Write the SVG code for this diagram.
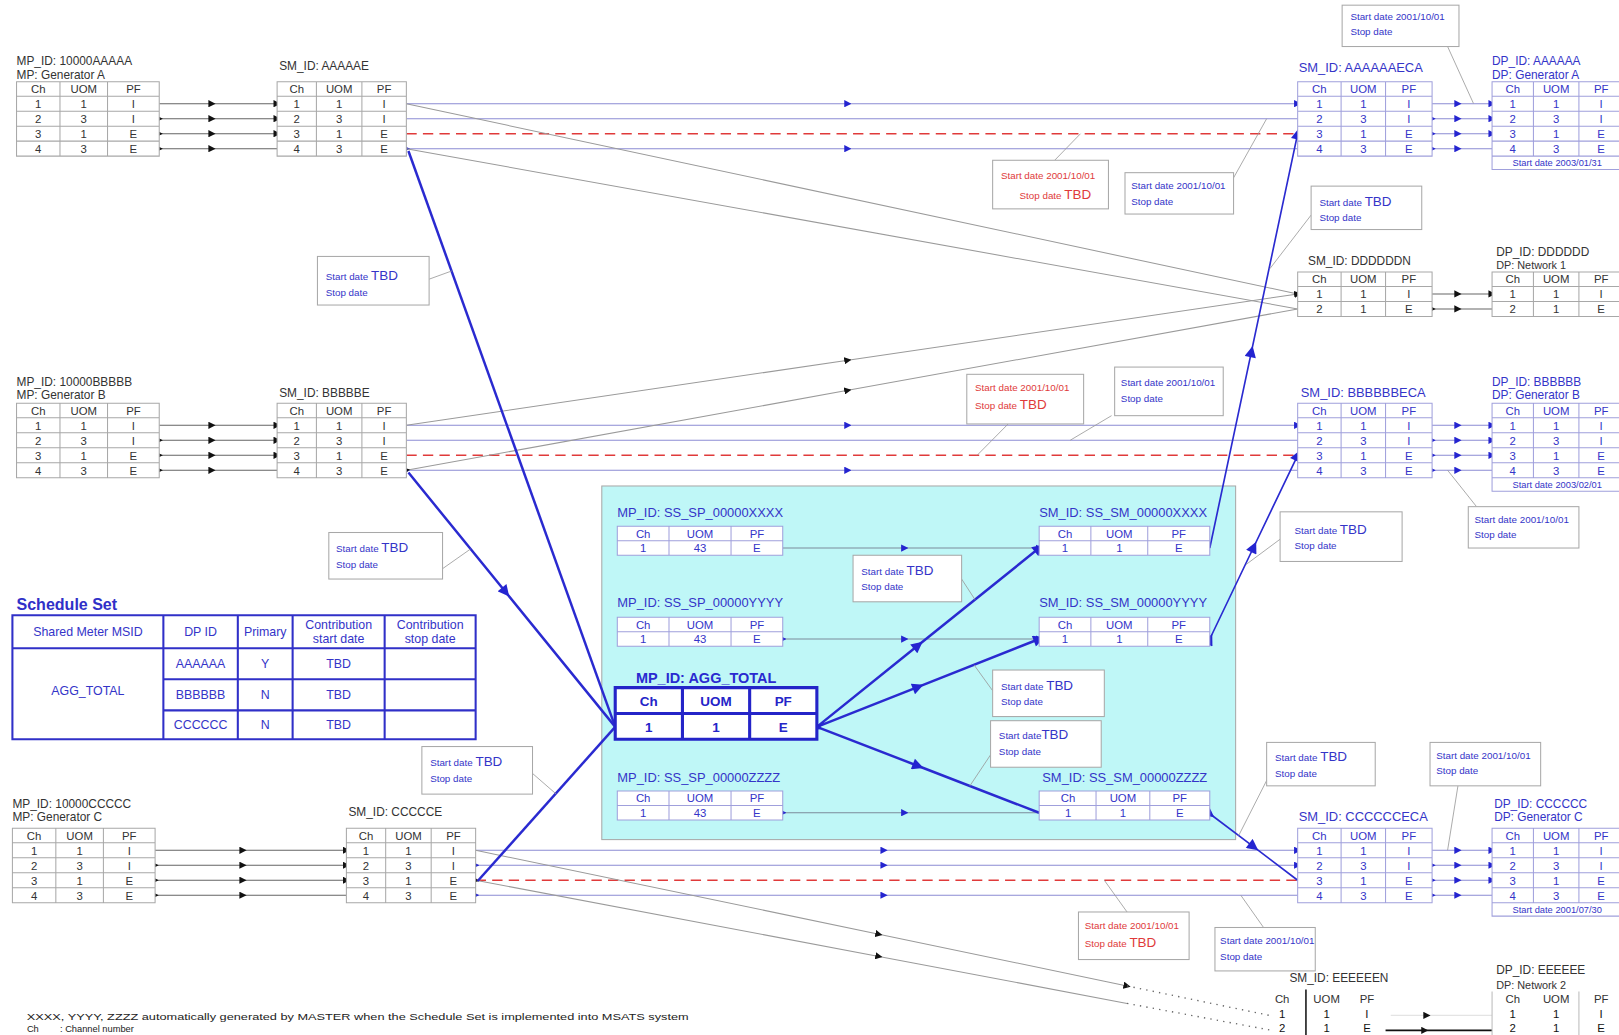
<svg xmlns="http://www.w3.org/2000/svg" width="1619" height="1035" viewBox="0 0 1619 1035">
<defs>
<style>
text{font-family:"Liberation Sans",Arial,sans-serif}
.lg{fill:#333;font-size:11.5px}
.lb{fill:#3434c8;font-size:11.5px}
.lbx{fill:#3434c8;font-size:12.5px}
.tg{fill:#333;font-size:11px;text-anchor:middle}
.tb{fill:#3434c8;font-size:11px;text-anchor:middle}
.sm{font-size:9.5px}
.ft{font-size:9px}
.cbt{fill:#3434c8}
.crt{fill:#e03a3a}
.tbd{font-size:13px}
.gt{fill:#fff;stroke:#a8a8a8;stroke-width:1}
.bt{fill:#fff;stroke:#a0a0dc;stroke-width:1}
.call{fill:#fff;stroke:#a8a8a8;stroke-width:1}
.lead{stroke:#999;stroke-width:0.8;fill:none}
.ck{stroke:#666;stroke-width:1;fill:none;marker-mid:url(#ak)}
.cbl{stroke:#8c8cd4;stroke-width:1;fill:none}
.cblm{stroke:#8c8cd4;stroke-width:1;fill:none;marker-mid:url(#abl)}
.cg{stroke:#9a9a9a;stroke-width:1;fill:none}
.cgm{stroke:#9a9a9a;stroke-width:1;fill:none;marker-mid:url(#ak)}
.cr{stroke:#e03a3a;stroke-width:1.5;fill:none;stroke-dasharray:10 6}
.ct{stroke:#2a2ad0;stroke-width:2.4;fill:none}
.ctm{stroke:#2a2ad0;stroke-width:2.4;fill:none;marker-mid:url(#abig)}
.cc{stroke:#7c8c9c;stroke-width:1;fill:none;marker-mid:url(#abl)}
.dot{stroke:#666;stroke-width:1.3;fill:none;stroke-dasharray:1.3 5}
.ss{fill:none;stroke:#3030c8;stroke-width:2}
.sst{fill:#3434c8;font-size:12px;text-anchor:middle}
</style>
<marker id="ak" viewBox="0 0 10 10" refX="5" refY="5" markerWidth="7" markerHeight="7" markerUnits="userSpaceOnUse" orient="auto"><path d="M0,0 L10,5 L0,10 z" fill="#111"/></marker>
<marker id="abl" viewBox="0 0 10 10" refX="5" refY="5" markerWidth="7" markerHeight="7" markerUnits="userSpaceOnUse" orient="auto"><path d="M0,0 L10,5 L0,10 z" fill="#2424d0"/></marker>
<marker id="abig" viewBox="0 0 10 10" refX="5" refY="5" markerWidth="12" markerHeight="11" markerUnits="userSpaceOnUse" orient="auto"><path d="M0,0 L10,5 L0,10 z" fill="#2424d0"/></marker>
</defs>
<rect x="0" y="0" width="1619" height="1035" fill="#fff"/>
<g transform="scale(1.034)">

<!-- cyan shared area -->
<rect id="shared-area" x="582" y="470" width="613" height="342" fill="#bff7f7" stroke="#a8a8a8" stroke-width="1"/>

<g id="connectors">
<!-- MP -> SM (black) -->
<path class="ck" d="M154,100.3 L205,100.3 L268,100.3 M154,114.8 L205,114.8 L268,114.8 M154,129.3 L205,129.3 L268,129.3 M154,143.8 L205,143.8 L268,143.8"/>
<path class="ck" d="M154,411.3 L205,411.3 L268,411.3 M154,425.8 L205,425.8 L268,425.8 M154,440.3 L205,440.3 L268,440.3 M154,454.8 L205,454.8 L268,454.8"/>
<path class="ck" d="M150,822.3 L235,822.3 L335,822.3 M150,836.8 L235,836.8 L335,836.8 M150,851.3 L235,851.3 L335,851.3 M150,865.8 L235,865.8 L335,865.8"/>
<!-- SM -> SM ECA (blue) -->
<path class="cblm" d="M393,100.3 L820,100.3 L1255,100.3 M393,143.8 L820,143.8 L1255,143.8"/>
<path class="cbl" d="M393,114.8 L1255,114.8"/>
<path class="cblm" d="M393,411.3 L820,411.3 L1255,411.3 M393,454.8 L820,454.8 L1255,454.8"/>
<path class="cbl" d="M393,425.8 L1255,425.8"/>
<path class="cblm" d="M460,822.3 L855,822.3 L1255,822.3 M460,836.8 L855,836.8 L1255,836.8 M460,865.8 L855,865.8 L1255,865.8"/>
<!-- red dashed -->
<path class="cr" d="M393,129.3 H1255 M393,440.3 H1255 M460,851.3 H1255"/>
<!-- diagonals to network meters -->
<path class="cg" d="M393,100.3 L1255,284.3 M393,143.8 L1255,298.8"/>
<path class="cgm" d="M393,411.3 L820,348.4 L1255,284.3 M393,454.8 L820,377.5 L1255,298.8"/>
<path class="cgm" d="M460,822.3 L850,903.5 L1090,953.5 M460,851.3 L850,925 L1090,970.4"/>
<path class="dot" d="M1090,953.5 L1230,982.5 M1090,970.4 L1230,996.5"/>
<!-- ECA -> DP (blue) -->
<path class="cblm" d="M1385,100.3 L1410,100.3 L1443,100.3 M1385,114.8 L1410,114.8 L1443,114.8 M1385,129.3 L1410,129.3 L1443,129.3 M1385,143.8 L1410,143.8 L1443,143.8"/>
<path class="cblm" d="M1385,411.3 L1410,411.3 L1443,411.3 M1385,425.8 L1410,425.8 L1443,425.8 M1385,440.3 L1410,440.3 L1443,440.3 M1385,454.8 L1410,454.8 L1443,454.8"/>
<path class="cblm" d="M1385,822.3 L1410,822.3 L1443,822.3 M1385,836.8 L1410,836.8 L1443,836.8 M1385,851.3 L1410,851.3 L1443,851.3 M1385,865.8 L1410,865.8 L1443,865.8"/>
<path class="ck" d="M1385,284.3 L1410,284.3 L1443,284.3 M1385,298.8 L1410,298.8 L1443,298.8"/>
<path class="ck" style="stroke:#e4e4e4" d="M1345,982 L1380,982 L1443,982"/>
<path class="ck" style="stroke:#111;stroke-width:1.6" d="M1340,996.5 L1378,996.5 L1443,996.5"/>
<!-- cyan SP -> SM -->
<path class="cc" d="M757,530 L875,530 L1005,530 M757,618 L875,618 L1005,618 M757,786 L875,786 L1005,786"/>
<!-- thick aggregation lines -->
<path class="ct" d="M395,146 L595,703"/>
<path class="ctm" d="M395,457 L489,572.6 L595,703"/>
<path class="ct" d="M462,852 L595,703"/>
<path class="ctm" d="M790,703 L888,624.1 L1005,530 M790,703 L888,664.3 L1005,618 M790,703 L888,740.8 L1005,786"/>
<path class="ctm" style="stroke-width:1.6" d="M1170,530 L1210.3,340 L1255,129.3 M1170,618 L1212.5,529 L1255,440.3 M1170,787 L1212.5,819 L1255,851.3"/>
<!-- callout leaders -->
<path class="lead" d="M1400,45 L1425,100 M1020,155 L1045,129.3 M1193,172 L1225,114.8 M1268,208 L1228,260 M415,270 L437,262 M975,410 L945,440.3 M1075,402 L1035,425.8 M1428,490 L1400,454.8 M1240,520 L1205,546 M428,550 L455,531 M930,560 L943,580 M960,668 L942,643 M958,730 L938,760 M515,748 L538,768 M1230,745 L1198,808 M1410,760 L1400,822.3 M1090,882 L1068,851.3 M1222,897 L1200,865.8"/>
</g>

<!-- ===== Top group ===== -->
<g id="mp-10000AAAAA">
<text class="lg" x="16" y="63">MP_ID: 10000AAAAA</text>
<text class="lg" x="16" y="76">MP: Generator A</text>
<path class="gt" d="M16,79h138v72h-138z M16,93h138 M16,107.5h138 M16,122h138 M16,136.5h138 M58,79v72 M104,79v72"/>
<text class="tg" y="90"><tspan x="37">Ch</tspan><tspan x="81">UOM</tspan><tspan x="129">PF</tspan></text>
<text class="tg" y="104.5"><tspan x="37">1</tspan><tspan x="81">1</tspan><tspan x="129">I</tspan></text>
<text class="tg" y="119"><tspan x="37">2</tspan><tspan x="81">3</tspan><tspan x="129">I</tspan></text>
<text class="tg" y="133.5"><tspan x="37">3</tspan><tspan x="81">1</tspan><tspan x="129">E</tspan></text>
<text class="tg" y="148"><tspan x="37">4</tspan><tspan x="81">3</tspan><tspan x="129">E</tspan></text>
</g>
<g id="sm-AAAAAE">
<text class="lg" x="270" y="68">SM_ID: AAAAAE</text>
<path class="gt" d="M268,79h125v72h-125z M268,93h125 M268,107.5h125 M268,122h125 M268,136.5h125 M306,79v72 M350,79v72"/>
<text class="tg" y="90"><tspan x="287">Ch</tspan><tspan x="328">UOM</tspan><tspan x="371.5">PF</tspan></text>
<text class="tg" y="104.5"><tspan x="287">1</tspan><tspan x="328">1</tspan><tspan x="371.5">I</tspan></text>
<text class="tg" y="119"><tspan x="287">2</tspan><tspan x="328">3</tspan><tspan x="371.5">I</tspan></text>
<text class="tg" y="133.5"><tspan x="287">3</tspan><tspan x="328">1</tspan><tspan x="371.5">E</tspan></text>
<text class="tg" y="148"><tspan x="287">4</tspan><tspan x="328">3</tspan><tspan x="371.5">E</tspan></text>
</g>
<g id="sm-AAAAAAECA">
<text class="lbx" x="1256" y="70">SM_ID: AAAAAAECA</text>
<path class="bt" d="M1255,79h130v72h-130z M1255,93h130 M1255,107.5h130 M1255,122h130 M1255,136.5h130 M1297,79v72 M1340,79v72"/>
<text class="tb" y="90"><tspan x="1276">Ch</tspan><tspan x="1318.5">UOM</tspan><tspan x="1362.5">PF</tspan></text>
<text class="tb" y="104.5"><tspan x="1276">1</tspan><tspan x="1318.5">1</tspan><tspan x="1362.5">I</tspan></text>
<text class="tb" y="119"><tspan x="1276">2</tspan><tspan x="1318.5">3</tspan><tspan x="1362.5">I</tspan></text>
<text class="tb" y="133.5"><tspan x="1276">3</tspan><tspan x="1318.5">1</tspan><tspan x="1362.5">E</tspan></text>
<text class="tb" y="148"><tspan x="1276">4</tspan><tspan x="1318.5">3</tspan><tspan x="1362.5">E</tspan></text>
</g>
<g id="dp-AAAAAA">
<text class="lb" x="1443" y="63">DP_ID: AAAAAA</text>
<text class="lb" x="1443" y="76">DP: Generator A</text>
<path class="bt" d="M1443,79h127v85h-127z M1443,93h127 M1443,107.5h127 M1443,122h127 M1443,136.5h127 M1443,151h127 M1483,79v72 M1527,79v72"/>
<text class="tb" y="90"><tspan x="1463">Ch</tspan><tspan x="1505">UOM</tspan><tspan x="1548.5">PF</tspan></text>
<text class="tb" y="104.5"><tspan x="1463">1</tspan><tspan x="1505">1</tspan><tspan x="1548.5">I</tspan></text>
<text class="tb" y="119"><tspan x="1463">2</tspan><tspan x="1505">3</tspan><tspan x="1548.5">I</tspan></text>
<text class="tb" y="133.5"><tspan x="1463">3</tspan><tspan x="1505">1</tspan><tspan x="1548.5">E</tspan></text>
<text class="tb" y="148"><tspan x="1463">4</tspan><tspan x="1505">3</tspan><tspan x="1548.5">E</tspan></text>
<text class="tb ft" x="1506" y="160.5">Start date 2003/01/31</text>
</g>

<g id="sm-DDDDDDN">
<text class="lg" x="1265" y="256">SM_ID: DDDDDDN</text>
<path class="gt" d="M1255,263h130v43h-130z M1255,277h130 M1255,291.5h130 M1297,263v43 M1340,263v43"/>
<text class="tg" y="274"><tspan x="1276">Ch</tspan><tspan x="1318.5">UOM</tspan><tspan x="1362.5">PF</tspan></text>
<text class="tg" y="288.5"><tspan x="1276">1</tspan><tspan x="1318.5">1</tspan><tspan x="1362.5">I</tspan></text>
<text class="tg" y="303"><tspan x="1276">2</tspan><tspan x="1318.5">1</tspan><tspan x="1362.5">E</tspan></text>
</g>
<g id="dp-DDDDDD">
<text class="lg" x="1447" y="248">DP_ID: DDDDDD</text>
<text class="lg" x="1447" y="260" style="font-size:10.5px">DP: Network 1</text>
<path class="gt" d="M1443,263h127v43h-127z M1443,277h127 M1443,291.5h127 M1483,263v43 M1527,263v43"/>
<text class="tg" y="274"><tspan x="1463">Ch</tspan><tspan x="1505">UOM</tspan><tspan x="1548.5">PF</tspan></text>
<text class="tg" y="288.5"><tspan x="1463">1</tspan><tspan x="1505">1</tspan><tspan x="1548.5">I</tspan></text>
<text class="tg" y="303"><tspan x="1463">2</tspan><tspan x="1505">1</tspan><tspan x="1548.5">E</tspan></text>
</g>

<!-- ===== B group ===== -->
<g id="mp-10000BBBBB">
<text class="lg" x="16" y="373">MP_ID: 10000BBBBB</text>
<text class="lg" x="16" y="386">MP: Generator B</text>
<path class="gt" d="M16,390h138v72h-138z M16,404h138 M16,418.5h138 M16,433h138 M16,447.5h138 M58,390v72 M104,390v72"/>
<text class="tg" y="401"><tspan x="37">Ch</tspan><tspan x="81">UOM</tspan><tspan x="129">PF</tspan></text>
<text class="tg" y="415.5"><tspan x="37">1</tspan><tspan x="81">1</tspan><tspan x="129">I</tspan></text>
<text class="tg" y="430"><tspan x="37">2</tspan><tspan x="81">3</tspan><tspan x="129">I</tspan></text>
<text class="tg" y="444.5"><tspan x="37">3</tspan><tspan x="81">1</tspan><tspan x="129">E</tspan></text>
<text class="tg" y="459"><tspan x="37">4</tspan><tspan x="81">3</tspan><tspan x="129">E</tspan></text>
</g>
<g id="sm-BBBBBE">
<text class="lg" x="270" y="384">SM_ID: BBBBBE</text>
<path class="gt" d="M268,390h125v72h-125z M268,404h125 M268,418.5h125 M268,433h125 M268,447.5h125 M306,390v72 M350,390v72"/>
<text class="tg" y="401"><tspan x="287">Ch</tspan><tspan x="328">UOM</tspan><tspan x="371.5">PF</tspan></text>
<text class="tg" y="415.5"><tspan x="287">1</tspan><tspan x="328">1</tspan><tspan x="371.5">I</tspan></text>
<text class="tg" y="430"><tspan x="287">2</tspan><tspan x="328">3</tspan><tspan x="371.5">I</tspan></text>
<text class="tg" y="444.5"><tspan x="287">3</tspan><tspan x="328">1</tspan><tspan x="371.5">E</tspan></text>
<text class="tg" y="459"><tspan x="287">4</tspan><tspan x="328">3</tspan><tspan x="371.5">E</tspan></text>
</g>
<g id="sm-BBBBBBECA">
<text class="lbx" x="1258" y="384">SM_ID: BBBBBBECA</text>
<path class="bt" d="M1255,390h130v72h-130z M1255,404h130 M1255,418.5h130 M1255,433h130 M1255,447.5h130 M1297,390v72 M1340,390v72"/>
<text class="tb" y="401"><tspan x="1276">Ch</tspan><tspan x="1318.5">UOM</tspan><tspan x="1362.5">PF</tspan></text>
<text class="tb" y="415.5"><tspan x="1276">1</tspan><tspan x="1318.5">1</tspan><tspan x="1362.5">I</tspan></text>
<text class="tb" y="430"><tspan x="1276">2</tspan><tspan x="1318.5">3</tspan><tspan x="1362.5">I</tspan></text>
<text class="tb" y="444.5"><tspan x="1276">3</tspan><tspan x="1318.5">1</tspan><tspan x="1362.5">E</tspan></text>
<text class="tb" y="459"><tspan x="1276">4</tspan><tspan x="1318.5">3</tspan><tspan x="1362.5">E</tspan></text>
</g>
<g id="dp-BBBBBB">
<text class="lb" x="1443" y="373">DP_ID: BBBBBB</text>
<text class="lb" x="1443" y="386">DP: Generator B</text>
<path class="bt" d="M1443,390h127v85h-127z M1443,404h127 M1443,418.5h127 M1443,433h127 M1443,447.5h127 M1443,462h127 M1483,390v72 M1527,390v72"/>
<text class="tb" y="401"><tspan x="1463">Ch</tspan><tspan x="1505">UOM</tspan><tspan x="1548.5">PF</tspan></text>
<text class="tb" y="415.5"><tspan x="1463">1</tspan><tspan x="1505">1</tspan><tspan x="1548.5">I</tspan></text>
<text class="tb" y="430"><tspan x="1463">2</tspan><tspan x="1505">3</tspan><tspan x="1548.5">I</tspan></text>
<text class="tb" y="444.5"><tspan x="1463">3</tspan><tspan x="1505">1</tspan><tspan x="1548.5">E</tspan></text>
<text class="tb" y="459"><tspan x="1463">4</tspan><tspan x="1505">3</tspan><tspan x="1548.5">E</tspan></text>
<text class="tb ft" x="1506" y="471.5">Start date 2003/02/01</text>
</g>

<!-- ===== Schedule Set ===== -->
<g id="schedule-set">
<text x="16" y="590" style="fill:#3030c8;font-size:15.5px;font-weight:bold">Schedule Set</text>
<path class="ss" d="M12,595H460V715H12Z M12,627H460 M158,657H460 M158,687H460 M158,595V715 M230,595V715 M283,595V715 M372,595V715"/>
<text class="sst" x="85" y="615">Shared Meter MSID</text>
<text class="sst" x="194" y="615">DP ID</text>
<text class="sst" x="256.5" y="615">Primary</text>
<text class="sst" x="327.5" y="608">Contribution</text>
<text class="sst" x="327.5" y="622">start date</text>
<text class="sst" x="416" y="608">Contribution</text>
<text class="sst" x="416" y="622">stop date</text>
<text class="sst" x="85" y="672">AGG_TOTAL</text>
<text class="sst" y="646"><tspan x="194">AAAAAA</tspan><tspan x="256.5">Y</tspan><tspan x="327.5">TBD</tspan></text>
<text class="sst" y="676"><tspan x="194">BBBBBB</tspan><tspan x="256.5">N</tspan><tspan x="327.5">TBD</tspan></text>
<text class="sst" y="705"><tspan x="194">CCCCCC</tspan><tspan x="256.5">N</tspan><tspan x="327.5">TBD</tspan></text>
</g>

<!-- ===== Shared meters ===== -->
<g id="mp-SS_SP_00000XXXX">
<text class="lbx" x="597" y="500">MP_ID: SS_SP_00000XXXX</text>
<path class="bt" d="M597,509h160v28h-160z M597,523h160 M647,509v28 M707,509v28"/>
<text class="tb" y="520"><tspan x="622">Ch</tspan><tspan x="677">UOM</tspan><tspan x="732">PF</tspan></text>
<text class="tb" y="534"><tspan x="622">1</tspan><tspan x="677">43</tspan><tspan x="732">E</tspan></text>
</g>
<g id="sm-SS_SM_00000XXXX">
<text class="lbx" x="1005" y="500">SM_ID: SS_SM_00000XXXX</text>
<path class="bt" d="M1005,509h165v28h-165z M1005,523h165 M1055,509v28 M1110,509v28"/>
<text class="tb" y="520"><tspan x="1030">Ch</tspan><tspan x="1082.5">UOM</tspan><tspan x="1140">PF</tspan></text>
<text class="tb" y="534"><tspan x="1030">1</tspan><tspan x="1082.5">1</tspan><tspan x="1140">E</tspan></text>
</g>
<g id="mp-SS_SP_00000YYYY">
<text class="lbx" x="597" y="587">MP_ID: SS_SP_00000YYYY</text>
<path class="bt" d="M597,597h160v28h-160z M597,611h160 M647,597v28 M707,597v28"/>
<text class="tb" y="608"><tspan x="622">Ch</tspan><tspan x="677">UOM</tspan><tspan x="732">PF</tspan></text>
<text class="tb" y="622"><tspan x="622">1</tspan><tspan x="677">43</tspan><tspan x="732">E</tspan></text>
</g>
<g id="sm-SS_SM_00000YYYY">
<text class="lbx" x="1005" y="587">SM_ID: SS_SM_00000YYYY</text>
<path class="bt" d="M1005,597h165v28h-165z M1005,611h165 M1055,597v28 M1110,597v28"/>
<text class="tb" y="608"><tspan x="1030">Ch</tspan><tspan x="1082.5">UOM</tspan><tspan x="1140">PF</tspan></text>
<text class="tb" y="622"><tspan x="1030">1</tspan><tspan x="1082.5">1</tspan><tspan x="1140">E</tspan></text>
</g>
<g id="mp-AGG_TOTAL">
<text x="615" y="661" style="fill:#2a2ad0;font-size:14px;font-weight:bold">MP_ID: AGG_TOTAL</text>
<path d="M595,665h195v50h-195z M595,690h195 M660,665v50 M725,665v50" fill="#fff" stroke="#2424c8" stroke-width="3"/>
<text y="683" style="fill:#2424c8;font-size:13px;font-weight:bold;text-anchor:middle"><tspan x="627.5">Ch</tspan><tspan x="692.5">UOM</tspan><tspan x="757.5">PF</tspan></text>
<text y="708" style="fill:#2424c8;font-size:13px;font-weight:bold;text-anchor:middle"><tspan x="627.5">1</tspan><tspan x="692.5">1</tspan><tspan x="757.5">E</tspan></text>
</g>
<g id="mp-SS_SP_00000ZZZZ">
<text class="lbx" x="597" y="756">MP_ID: SS_SP_00000ZZZZ</text>
<path class="bt" d="M597,765h160v28h-160z M597,779h160 M647,765v28 M707,765v28"/>
<text class="tb" y="776"><tspan x="622">Ch</tspan><tspan x="677">UOM</tspan><tspan x="732">PF</tspan></text>
<text class="tb" y="790"><tspan x="622">1</tspan><tspan x="677">43</tspan><tspan x="732">E</tspan></text>
</g>
<g id="sm-SS_SM_00000ZZZZ">
<text class="lbx" x="1008" y="756">SM_ID: SS_SM_00000ZZZZ</text>
<path class="bt" d="M1005,765h165v28h-165z M1005,779h165 M1060,765v28 M1112,765v28"/>
<text class="tb" y="776"><tspan x="1033">Ch</tspan><tspan x="1086">UOM</tspan><tspan x="1141">PF</tspan></text>
<text class="tb" y="790"><tspan x="1033">1</tspan><tspan x="1086">1</tspan><tspan x="1141">E</tspan></text>
</g>

<!-- ===== C group ===== -->
<g id="mp-10000CCCCC">
<text class="lg" x="12" y="781">MP_ID: 10000CCCCC</text>
<text class="lg" x="12" y="794">MP: Generator C</text>
<path class="gt" d="M12,801h138v72h-138z M12,815h138 M12,829.5h138 M12,844h138 M12,858.5h138 M54,801v72 M100,801v72"/>
<text class="tg" y="812"><tspan x="33">Ch</tspan><tspan x="77">UOM</tspan><tspan x="125">PF</tspan></text>
<text class="tg" y="826.5"><tspan x="33">1</tspan><tspan x="77">1</tspan><tspan x="125">I</tspan></text>
<text class="tg" y="841"><tspan x="33">2</tspan><tspan x="77">3</tspan><tspan x="125">I</tspan></text>
<text class="tg" y="855.5"><tspan x="33">3</tspan><tspan x="77">1</tspan><tspan x="125">E</tspan></text>
<text class="tg" y="870"><tspan x="33">4</tspan><tspan x="77">3</tspan><tspan x="125">E</tspan></text>
</g>
<g id="sm-CCCCCE">
<text class="lg" x="337" y="789">SM_ID: CCCCCE</text>
<path class="gt" d="M335,801h125v72h-125z M335,815h125 M335,829.5h125 M335,844h125 M335,858.5h125 M373,801v72 M417,801v72"/>
<text class="tg" y="812"><tspan x="354">Ch</tspan><tspan x="395">UOM</tspan><tspan x="438.5">PF</tspan></text>
<text class="tg" y="826.5"><tspan x="354">1</tspan><tspan x="395">1</tspan><tspan x="438.5">I</tspan></text>
<text class="tg" y="841"><tspan x="354">2</tspan><tspan x="395">3</tspan><tspan x="438.5">I</tspan></text>
<text class="tg" y="855.5"><tspan x="354">3</tspan><tspan x="395">1</tspan><tspan x="438.5">E</tspan></text>
<text class="tg" y="870"><tspan x="354">4</tspan><tspan x="395">3</tspan><tspan x="438.5">E</tspan></text>
</g>
<g id="sm-CCCCCCECA">
<text class="lbx" x="1256" y="794">SM_ID: CCCCCCECA</text>
<path class="bt" d="M1255,801h130v72h-130z M1255,815h130 M1255,829.5h130 M1255,844h130 M1255,858.5h130 M1297,801v72 M1340,801v72"/>
<text class="tb" y="812"><tspan x="1276">Ch</tspan><tspan x="1318.5">UOM</tspan><tspan x="1362.5">PF</tspan></text>
<text class="tb" y="826.5"><tspan x="1276">1</tspan><tspan x="1318.5">1</tspan><tspan x="1362.5">I</tspan></text>
<text class="tb" y="841"><tspan x="1276">2</tspan><tspan x="1318.5">3</tspan><tspan x="1362.5">I</tspan></text>
<text class="tb" y="855.5"><tspan x="1276">3</tspan><tspan x="1318.5">1</tspan><tspan x="1362.5">E</tspan></text>
<text class="tb" y="870"><tspan x="1276">4</tspan><tspan x="1318.5">3</tspan><tspan x="1362.5">E</tspan></text>
</g>
<g id="dp-CCCCCC">
<text class="lb" x="1445" y="781">DP_ID: CCCCCC</text>
<text class="lb" x="1445" y="794">DP: Generator C</text>
<path class="bt" d="M1443,801h127v85h-127z M1443,815h127 M1443,829.5h127 M1443,844h127 M1443,858.5h127 M1443,873h127 M1483,801v72 M1527,801v72"/>
<text class="tb" y="812"><tspan x="1463">Ch</tspan><tspan x="1505">UOM</tspan><tspan x="1548.5">PF</tspan></text>
<text class="tb" y="826.5"><tspan x="1463">1</tspan><tspan x="1505">1</tspan><tspan x="1548.5">I</tspan></text>
<text class="tb" y="841"><tspan x="1463">2</tspan><tspan x="1505">3</tspan><tspan x="1548.5">I</tspan></text>
<text class="tb" y="855.5"><tspan x="1463">3</tspan><tspan x="1505">1</tspan><tspan x="1548.5">E</tspan></text>
<text class="tb" y="870"><tspan x="1463">4</tspan><tspan x="1505">3</tspan><tspan x="1548.5">E</tspan></text>
<text class="tb ft" x="1506" y="882.5">Start date 2001/07/30</text>
</g>

<!-- ===== E group ===== -->
<g id="sm-EEEEEEN">
<text class="lg" x="1247" y="950">SM_ID: EEEEEEN</text>
<path d="M1263,957V1001" stroke="#222" stroke-width="1.6"/>
<text class="tg" y="970"><tspan x="1240">Ch</tspan><tspan x="1283">UOM</tspan><tspan x="1322">PF</tspan></text>
<text class="tg" y="984.5" style="fill:#111"><tspan x="1240">1</tspan><tspan x="1283">1</tspan><tspan x="1322">I</tspan></text>
<text class="tg" y="998" style="fill:#111"><tspan x="1240">2</tspan><tspan x="1283">1</tspan><tspan x="1322">E</tspan></text>
</g>
<g id="dp-EEEEEE">
<text class="lg" x="1447" y="942">DP_ID: EEEEEE</text>
<text class="lg" x="1447" y="956" style="font-size:10.5px">DP: Network 2</text>
<path d="M1443,959V1001 M1527,959V1001" stroke="#bbb" stroke-width="1"/>
<text class="tg" y="970"><tspan x="1463">Ch</tspan><tspan x="1505">UOM</tspan><tspan x="1548.5">PF</tspan></text>
<text class="tg" y="984.5" style="fill:#111"><tspan x="1463">1</tspan><tspan x="1505">1</tspan><tspan x="1548.5">I</tspan></text>
<text class="tg" y="998" style="fill:#111"><tspan x="1463">2</tspan><tspan x="1505">1</tspan><tspan x="1548.5">E</tspan></text>
</g>

<!-- ===== Callouts ===== -->
<g id="callouts">
<g id="note-1"><rect class="call" x="1298" y="5" width="113" height="40"/><text class="sm cbt" x="1306" y="19">Start date 2001/10/01</text><text class="sm cbt" x="1306" y="34">Stop date</text></g>
<g id="note-2"><rect class="call" x="960" y="155" width="112" height="47"/><text class="sm crt" x="968" y="173">Start date 2001/10/01</text><text class="sm crt" x="986" y="192">Stop date <tspan class="tbd">TBD</tspan></text></g>
<g id="note-3"><rect class="call" x="1088" y="167" width="105" height="40"/><text class="sm cbt" x="1094" y="183">Start date 2001/10/01</text><text class="sm cbt" x="1094" y="198">Stop date</text></g>
<g id="note-4"><rect class="call" x="1268" y="180" width="107" height="42"/><text class="sm cbt" x="1276" y="199">Start date <tspan class="tbd">TBD</tspan></text><text class="sm cbt" x="1276" y="214">Stop date</text></g>
<g id="note-5"><rect class="call" x="307" y="248" width="108" height="47"/><text class="sm cbt" x="315" y="271">Start date <tspan class="tbd">TBD</tspan></text><text class="sm cbt" x="315" y="286">Stop date</text></g>
<g id="note-6"><rect class="call" x="935" y="362" width="113" height="48"/><text class="sm crt" x="943" y="378">Start date 2001/10/01</text><text class="sm crt" x="943" y="396">Stop date <tspan class="tbd">TBD</tspan></text></g>
<g id="note-7"><rect class="call" x="1078" y="355" width="105" height="47"/><text class="sm cbt" x="1084" y="373">Start date 2001/10/01</text><text class="sm cbt" x="1084" y="389">Stop date</text></g>
<g id="note-8"><rect class="call" x="1420" y="490" width="107" height="40"/><text class="sm cbt" x="1426" y="506">Start date 2001/10/01</text><text class="sm cbt" x="1426" y="520">Stop date</text></g>
<g id="note-9"><rect class="call" x="1238" y="495" width="118" height="48"/><text class="sm cbt" x="1252" y="516">Start date <tspan class="tbd">TBD</tspan></text><text class="sm cbt" x="1252" y="531">Stop date</text></g>
<g id="note-10"><rect class="call" x="318" y="515" width="110" height="45"/><text class="sm cbt" x="325" y="534">Start date <tspan class="tbd">TBD</tspan></text><text class="sm cbt" x="325" y="549">Stop date</text></g>
<g id="note-11"><rect class="call" x="825" y="537" width="105" height="45"/><text class="sm cbt" x="833" y="556">Start date <tspan class="tbd">TBD</tspan></text><text class="sm cbt" x="833" y="571">Stop date</text></g>
<g id="note-12"><rect class="call" x="960" y="648" width="108" height="45"/><text class="sm cbt" x="968" y="667">Start date <tspan class="tbd">TBD</tspan></text><text class="sm cbt" x="968" y="682">Stop date</text></g>
<g id="note-13"><rect class="call" x="958" y="697" width="107" height="45"/><text class="sm cbt" x="966" y="715">Start date<tspan class="tbd">TBD</tspan></text><text class="sm cbt" x="966" y="730">Stop date</text></g>
<g id="note-14"><rect class="call" x="408" y="722" width="107" height="46"/><text class="sm cbt" x="416" y="741">Start date <tspan class="tbd">TBD</tspan></text><text class="sm cbt" x="416" y="756">Stop date</text></g>
<g id="note-15"><rect class="call" x="1225" y="718" width="105" height="42"/><text class="sm cbt" x="1233" y="736">Start date <tspan class="tbd">TBD</tspan></text><text class="sm cbt" x="1233" y="751">Stop date</text></g>
<g id="note-16"><rect class="call" x="1383" y="718" width="107" height="42"/><text class="sm cbt" x="1389" y="734">Start date 2001/10/01</text><text class="sm cbt" x="1389" y="749">Stop date</text></g>
<g id="note-17"><rect class="call" x="1043" y="882" width="107" height="46"/><text class="sm crt" x="1049" y="898">Start date 2001/10/01</text><text class="sm crt" x="1049" y="916">Stop date <tspan class="tbd">TBD</tspan></text></g>
<g id="note-18"><rect class="call" x="1175" y="897" width="97" height="42"/><text class="sm cbt" x="1180" y="913">Start date 2001/10/01</text><text class="sm cbt" x="1180" y="928">Stop date</text></g>
</g>

<!-- footnotes -->
<g id="footnotes">
<text x="26" y="986" textLength="640" lengthAdjust="spacingAndGlyphs" style="fill:#222;font-size:9px">XXXX, YYYY, ZZZZ automatically generated by MASTER when the Schedule Set is implemented into MSATS system</text>
<text y="998" style="fill:#222;font-size:9px"><tspan x="26">Ch</tspan><tspan x="58">: Channel number</tspan></text>
</g>
</g>
</svg>
